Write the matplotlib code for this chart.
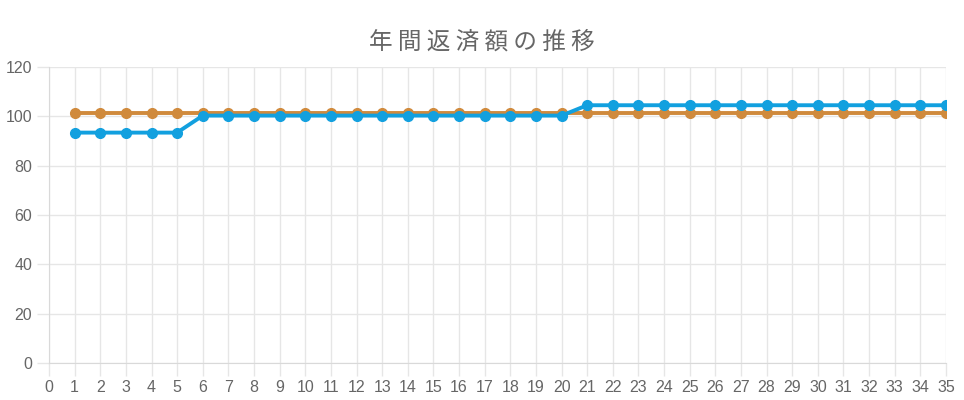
import numpy as np
import matplotlib.pyplot as plt

plt.rcParams['font.family'] = ['Liberation Sans', 'Noto Sans CJK JP', 'DejaVu Sans']

title = "年間返済額の推移"
years = list(range(1, 36))
orange_vals = [101.2] * 35
blue_vals = [93.4] * 5 + [100.3] * 15 + [104.5] * 15

fig = plt.figure(figsize=(9.64, 4.0), dpi=100)
ax = fig.add_axes([49 / 964, 1 - 363 / 400, (946 - 49) / 964, (363 - 67) / 400])

ax.plot(years, orange_vals, color='#d08a3c', lw=2.8, marker='o', ms=7, zorder=3)
ax.plot(years, blue_vals, color='#12a0df', lw=2.8, marker='o', ms=7, zorder=4)

ax.set_xlim(0, 35)
ax.set_ylim(0, 120)
ax.set_xticks(range(0, 36))
ax.set_yticks([0, 20, 40, 60, 80, 100, 120])
ax.grid(True, color='#e6e6e6', lw=1)
ax.set_axisbelow(True)
for s in ['top', 'right']:
    ax.spines[s].set_visible(False)
ax.spines['left'].set_color('#d9d9d9')
ax.spines['bottom'].set_color('#d9d9d9')
ax.tick_params(axis='both', colors='#e6e6e6', labelcolor='#666666', labelsize=11.5,
               length=9, width=1)
ax.tick_params(axis='x', pad=3)
ax.tick_params(axis='y', pad=3)

fig.text(0.5, 1 - 42 / 400, " ".join(title), ha='center', va='center',
         fontsize=17, color='#666666', family=['Noto Sans CJK JP', 'DejaVu Sans'])

fig.savefig("out.png", dpi=100)
